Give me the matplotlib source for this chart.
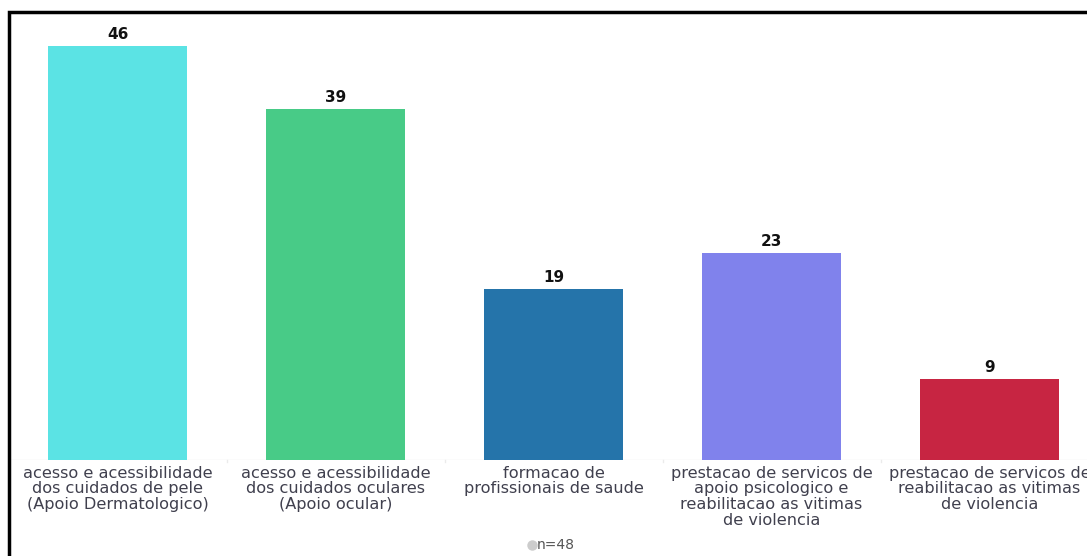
import matplotlib
matplotlib.use("Agg")
import matplotlib.pyplot as plt
from matplotlib.patches import Rectangle
from matplotlib.lines import Line2D

categories = [
    "acesso e acessibilidade\ndos cuidados de pele\n(Apoio Dermatologico)",
    "acesso e acessibilidade\ndos cuidados oculares\n(Apoio ocular)",
    "formacao de\nprofissionais de saude",
    "prestacao de servicos de\napoio psicologico e\nreabilitacao as vitimas\nde violencia",
    "prestacao de servicos de\nreabilitacao as vitimas\nde violencia",
]
values = [46, 39, 19, 23, 9]
colors = ["#5BE3E4", "#48CB87", "#2574AA", "#8082EC", "#C72542"]
sample_label = "n=48"

plt.rcParams["font.family"] = ["DejaVu Sans"]

W, H = 1087, 556
fig = plt.figure(figsize=(W / 100, H / 100), dpi=100)

# plotting area: x from 8.5 to 1098.5 px, y from 11 to 460 px
left, right = 8.5, 1098.5
top, bottom = 11, 460
ax = fig.add_axes([left / W, 1 - bottom / H, (right - left) / W, (bottom - top) / H])
ax.set_xlim(-0.5, len(values) - 0.5)
ax.set_ylim(0, (bottom - top) / 9.0)

x = list(range(len(values)))
ax.bar(x, values, width=0.635, color=colors, zorder=2)
for xi, v in zip(x, values):
    ax.annotate(str(v), (xi, v), xytext=(0, 3), textcoords="offset points",
                ha="center", va="bottom", fontsize=11, fontweight="bold",
                color="#111111")

for s in ax.spines.values():
    s.set_visible(False)
ax.set_yticks([])
ax.set_xticks(x)
ax.set_xticklabels(categories, fontsize=11.6, color="#40404E", linespacing=1.07)
ax.tick_params(axis="x", length=0, pad=4)
ax.axhline(0, color="#EBEBEB", lw=1, zorder=1)
for xb in [0.5, 1.5, 2.5, 3.5]:
    ax.plot([xb, xb], [0, -0.25], color="#EBEBEB", lw=1, clip_on=False)

# sample-size note with marker
fig.add_artist(Line2D([532 / W], [1 - 545 / H], marker="o", markersize=6.5,
                      color="#CCCCCC", markeredgecolor="#CCCCCC", linestyle="none"))
fig.text(537 / W, 1 - 545 / H, sample_label, fontsize=10, color="#555555",
         ha="left", va="center")

# black outer frame
fig.add_artist(Rectangle((8.5 / W, -0.1), 1.2, 1 - 11.5 / H + 0.1,
                         transform=fig.transFigure, fill=False,
                         edgecolor="black", lw=2.5))

fig.savefig("out.png", dpi=100)
